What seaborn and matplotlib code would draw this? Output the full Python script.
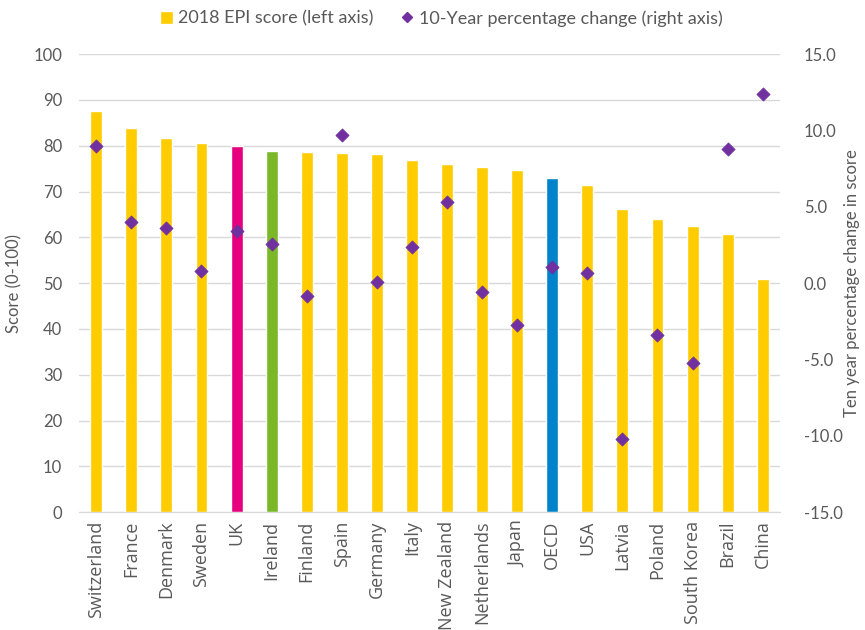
import matplotlib
matplotlib.use('Agg')
import matplotlib.pyplot as plt
import seaborn as sns
import pandas as pd
from matplotlib.lines import Line2D
from matplotlib.patches import Patch

countries = ['Switzerland', 'France', 'Denmark', 'Sweden', 'UK', 'Ireland',
             'Finland', 'Spain', 'Germany', 'Italy', 'New Zealand',
             'Netherlands', 'Japan', 'OECD', 'USA', 'Latvia', 'Poland',
             'South Korea', 'Brazil', 'China']
epi_score = [87.6, 83.9, 81.6, 80.6, 80.0, 78.8, 78.6, 78.4, 78.3, 77.0,
             76.0, 75.4, 74.7, 73.0, 71.4, 66.1, 64.1, 62.4, 60.7, 50.9]
pct_change = [9.0, 4.0, 3.6, 0.8, 3.4, 2.55, -0.85, 9.7, 0.1, 2.35,
              5.3, -0.6, -2.75, 1.05, 0.65, -10.2, -3.4, -5.25, 8.8, 12.4]

yellow = '#FFCC00'
highlight = {'UK': '#E6007E', 'Ireland': '#7AB829', 'OECD': '#0083CA'}
palette = {c: highlight.get(c, yellow) for c in countries}
purple = '#7030A0'
grey = '#595959'

df = pd.DataFrame({'country': countries, 'score': epi_score, 'change': pct_change})

sns.set_style('white')
plt.rcParams['font.family'] = ['Lato', 'DejaVu Sans']

fig = plt.figure(figsize=(8.65, 6.3), dpi=100)
ax = fig.add_axes([0.091, 0.187, 0.811, 0.727])

sns.barplot(data=df, x='country', y='score', hue='country', palette=palette,
            legend=False, width=0.34, saturation=1, ax=ax, zorder=2)
ax.set_ylim(0, 100)
ax.set_yticks(range(0, 101, 10))
ax.yaxis.grid(True, color='#D9D9D9', linewidth=1, zorder=0)
ax.set_axisbelow(True)
ax.set_xlim(-0.5, len(countries) - 0.5)
ax.set_xlabel('')
ax.set_ylabel('Score (0-100)', fontsize=12, color=grey, labelpad=8)
ax.tick_params(axis='y', labelsize=12, colors=grey, length=0, pad=12)
ax.tick_params(axis='x', length=0, pad=6)
ax.set_xticks(range(len(countries)))
ax.set_xticklabels(countries, rotation=90, fontsize=13, color=grey,
                   family=['Open Sans', 'DejaVu Sans'])
for s in ['top', 'right', 'left']:
    ax.spines[s].set_visible(False)
ax.spines['bottom'].set_color('#D9D9D9')

ax2 = ax.twinx()
sns.scatterplot(data=df, x='country', y='change', marker='D', s=45,
                color=purple, edgecolor=purple, ax=ax2, zorder=3)
ax2.set_ylim(-15, 15)
ax2.set_yticks(range(-15, 16, 5))
ax2.set_yticklabels([f'{v:.1f}' for v in range(-15, 16, 5)])
ax2.set_ylabel('Ten year percentage change in score', fontsize=12,
               color=grey, labelpad=1)
ax2.tick_params(axis='y', labelsize=12, colors=grey, length=0, pad=17)
for s in ['top', 'right', 'left', 'bottom']:
    ax2.spines[s].set_visible(False)
ax2.set_xlim(-0.5, len(countries) - 0.5)

handles = [Patch(facecolor=yellow, label='2018 EPI score (left axis)'),
           Line2D([], [], marker='D', linestyle='', color=purple, markersize=5,
                  label='10-Year percentage change (right axis)')]
fig.legend(handles=handles, loc='center', bbox_to_anchor=(0.51, 0.971), ncol=2,
           frameon=False, fontsize=13, handlelength=0.7, handletextpad=0.3,
           columnspacing=1.5, labelcolor=grey)

fig.savefig('out.png', dpi=100)
